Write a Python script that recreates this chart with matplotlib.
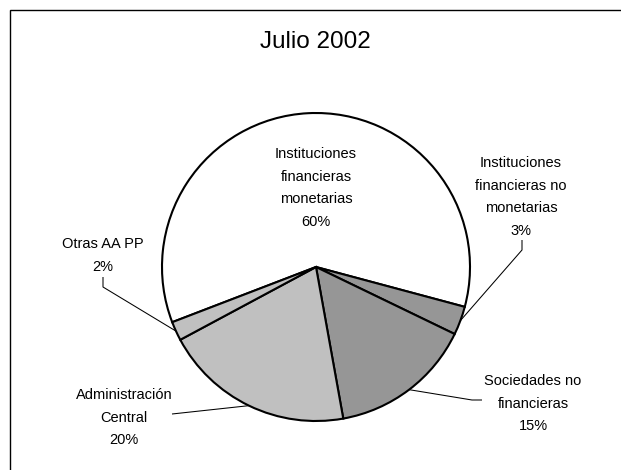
import numpy as np
import matplotlib
matplotlib.use("Agg")
import matplotlib.pyplot as plt
from matplotlib.patches import Rectangle

# ---- data ----
title = "Julio 2002"
categories = ["Instituciones\nfinancieras\nmonetarias",
              "Instituciones\nfinancieras no\nmonetarias",
              "Sociedades no\nfinancieras",
              "Administración\nCentral",
              "Otras AA PP"]
values = [60, 3, 15, 20, 2]
colors = ["#ffffff", "#969696", "#969696", "#c0c0c0", "#c0c0c0"]

W, H = 621, 470
fig = plt.figure(figsize=(W / 100, H / 100), dpi=100)
ax = fig.add_axes([0, 0, 1, 1])

def Y(y):
    return H - y

cx, cy, R = 316, 267, 154
start = 201

wedges, _ = ax.pie(values, colors=colors, startangle=start, counterclock=False,
                   center=(cx, Y(cy)), radius=R,
                   wedgeprops=dict(edgecolor="black", linewidth=1.5, joinstyle="miter"))
ax.set_xlim(0, W)
ax.set_ylim(0, H)
ax.set_aspect("auto")
ax.axis("off")

font = dict(family="Liberation Sans", size=10.5, color="black")

# label layout: (text centre x, first-line centre y, elbow points); leaders end on the rim at wedge mid-angle
label_pos = [
    (316, 153, None),
    (521, 162, [(522, 240), (522, 250)]),
    (533, 380, [(482, 400), (472, 400)]),
    (124, 394, [(172, 414)]),
    (103, 243, [(103, 277), (103, 287)]),
]

for w, cat, v, (lx, ly, elbow) in zip(wedges, categories, values, label_pos):
    txt = f"{cat}\n{v}%"
    ax.text(lx, Y(ly - 6), txt, ha="center", va="top", linespacing=1.78,
            transform=ax.transData, **font)
    if elbow:
        mid = np.deg2rad((w.theta1 + w.theta2) / 2)
        ex = cx + R * np.cos(mid)
        ey = Y(cy) + R * np.sin(mid)
        xs = [p[0] for p in elbow] + [ex]
        ys = [Y(p[1]) for p in elbow] + [ey]
        ax.plot(xs, ys, color="black", linewidth=0.75, solid_capstyle="butt")

# title
ax.text(315, Y(42), title, ha="center", va="center",
        family="Liberation Sans", size=17.5, color="black")

# chart frame (right and bottom edges fall outside the image)
fig.patches.append(Rectangle((10 / W, -0.2), 1.2, 1.2 - 10 / H, transform=fig.transFigure,
                             fill=False, edgecolor="black", linewidth=1.0))

fig.savefig("out.png", dpi=100)
